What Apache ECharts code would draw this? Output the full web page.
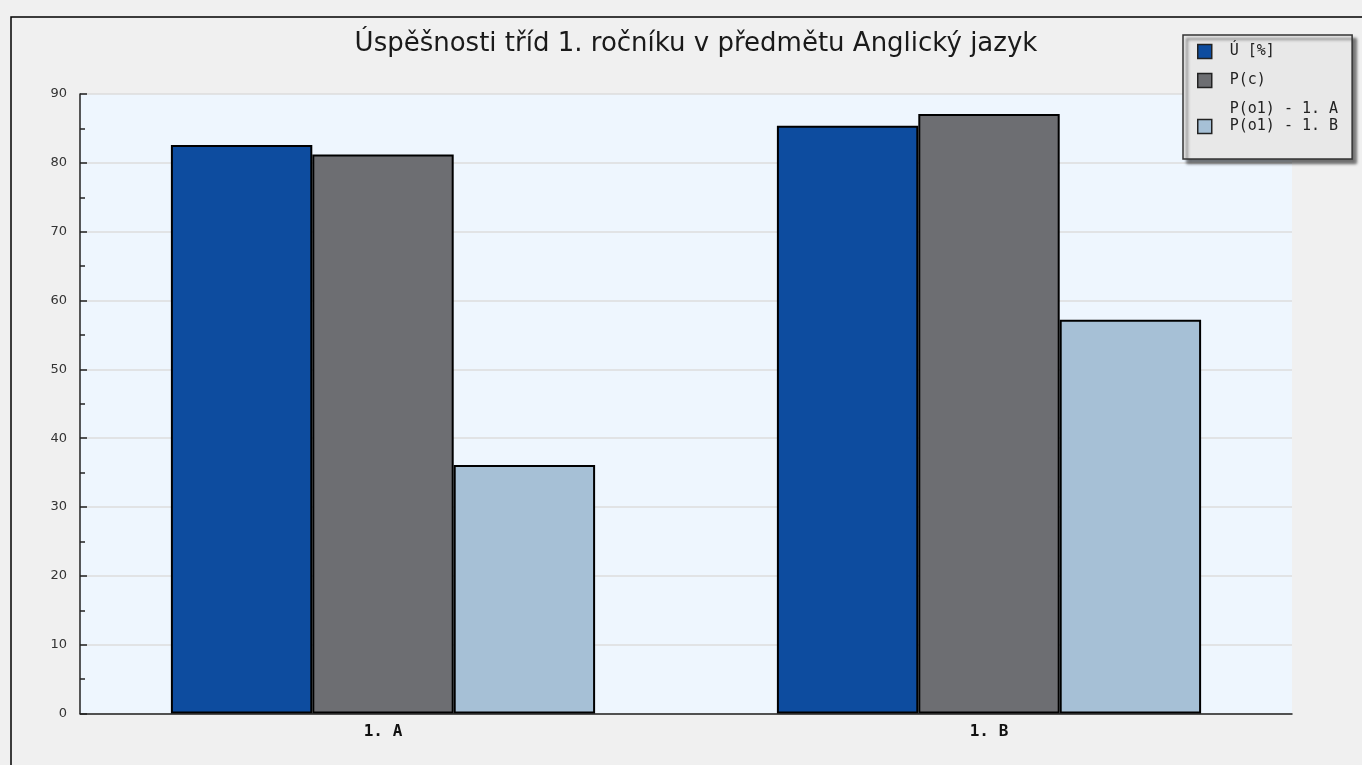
<!DOCTYPE html>
<html>
<head>
<meta charset="utf-8">
<script src="https://cdn.jsdelivr.net/npm/echarts@6/dist/echarts.min.js"></script>
<style>
  html, body { margin: 0; padding: 0; background: #f0f0f0; }
  #main { width: 1362px; height: 765px; }
</style>
</head>
<body>
<div id="main"></div>
<script>
// data
const categories = ['1. A', '1. B']
const seriesNames = ['Ú [%]', 'P(c)', 'P(o1) - 1. A\nP(o1) - 1. B']
const successRate = [82.6, 85.4]
const pc = [81.2, 87.1]
const po1 = [36.1, 57.2]
const yTicks = [0, 90, 10] // min, max, interval

const colors = ['#0d4c9f', '#6d6e72', '#a6c0d6']
const myChart = echarts.init(document.getElementById('main'))

const barStyle = (c) => ({ color: c, borderColor: '#000', borderWidth: 2 })

const option = {
  backgroundColor: '#f0f0f0',
  animation: false,
  title: {
    text: 'Úspěšnosti tříd 1. ročníku v předmětu Anglický jazyk',
    left: 691,
    top: 26,
    textAlign: 'center',
    textStyle: { fontFamily: 'DejaVu Sans', fontSize: 26, fontWeight: 'normal', color: '#1a1a1a' },
  },
  graphic: [
    { type: 'rect', shape: { x: 11, y: 17, width: 1400, height: 800 }, style: { fill: null, stroke: '#000', lineWidth: 1.5 }, z: -1 },
  ],
  legend: {
    orient: 'vertical',
    left: 1183,
    top: 35,
    padding: [8, 14, 7, 14],
    itemWidth: 14,
    itemHeight: 14,
    itemGap: 12,
    backgroundColor: '#e8e8e8',
    borderColor: '#333',
    borderWidth: 1.5,
    borderRadius: 0,
    shadowColor: 'rgba(0,0,0,0.55)',
    shadowBlur: 3,
    shadowOffsetX: 4,
    shadowOffsetY: 4,
    itemStyle: { borderColor: '#222', borderWidth: 1.5 },
    formatter: (name) => (name === seriesNames[2] ? name + '\n ' : name),
    textStyle: { fontFamily: 'DejaVu Sans Mono', fontSize: 15, color: '#222', padding: [0, 0, 0, 13], lineHeight: 17 },
    data: seriesNames.map((n) => ({ name: n, icon: 'rect' })),
  },
  grid: {
    left: 80, right: 70, top: 94, bottom: 51.5,
    show: true, backgroundColor: '#eef6fe', borderWidth: 0,
  },
  xAxis: {
    type: 'category',
    data: categories,
    axisLine: { lineStyle: { color: '#222', width: 1.5 } },
    axisTick: { inside: true, length: 8, lineStyle: { color: '#222', width: 1.5 } },
    axisLabel: { fontFamily: 'DejaVu Sans Mono', fontWeight: 'bold', fontSize: 16, color: '#111', margin: 10 },
  },
  yAxis: {
    type: 'value',
    min: yTicks[0],
    max: yTicks[1],
    interval: yTicks[2],
    axisLine: { show: true, lineStyle: { color: '#222', width: 1.5 } },
    axisTick: { show: true, inside: true, length: 7, lineStyle: { color: '#222', width: 1.5 } },
    minorTick: { show: true, splitNumber: 2, length: 5, lineStyle: { color: '#222', width: 1.5 } },
    axisLabel: { fontFamily: 'DejaVu Sans', fontSize: 13, color: '#333', margin: 13 },
    splitLine: { lineStyle: { color: '#dcdcdc', width: 1.5 } },
  },
  series: [
    { name: seriesNames[0], type: 'bar', data: successRate, barGap: '0%', barCategoryGap: '30%', itemStyle: barStyle(colors[0]) },
    { name: seriesNames[1], type: 'bar', data: pc, itemStyle: barStyle(colors[1]) },
    { name: seriesNames[2], type: 'bar', data: po1, itemStyle: barStyle(colors[2]) },
  ],
}
option && myChart.setOption(option)
</script>
</body>
</html>
